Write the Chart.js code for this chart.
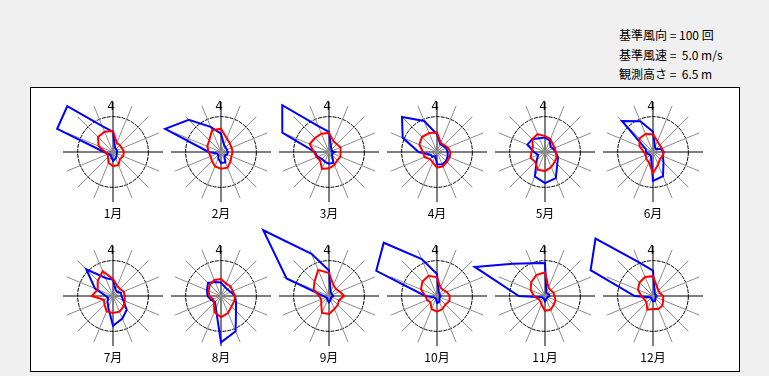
<!DOCTYPE html>
<html>
<head>
<meta charset="utf-8">
<script src="https://cdn.jsdelivr.net/npm/chart.js@4.4.1/dist/chart.umd.min.js"></script>
<style>
body { margin: 0; background: #f0f0f0; width: 769px; height: 376px; overflow: hidden; font-family: "Noto Sans CJK JP", sans-serif; }
#frame { position: absolute; left: 30px; top: 87px; width: 708px; height: 283px; border: 1px solid #000; background: #fff; }
#info { position: absolute; left: 619px; top: 25px; font-size: 12px; line-height: 19.5px; white-space: pre; color: #000; }
.rose { position: absolute; width: 220px; height: 220px; }
.mon { position: absolute; width: 40px; text-align: center; font-size: 12px; line-height: 16px; color: #000; }
</style>
</head>
<body>
<div id="frame"></div>
<div id="info">基準風向 = 100 回
基準風速 =  5.0 m/s
観測高さ =  6.5 m</div>
<div id="roses"></div>

<script>
// 16方位 (北から時計回り)
var dirs = ['N', 'NNE', 'NE', 'ENE', 'E', 'ESE', 'SE', 'SSE', 'S', 'SSW', 'SW', 'WSW', 'W', 'WNW', 'NW', 'NNW'];
var months = ['1月', '2月', '3月', '4月', '5月', '6月', '7月', '8月', '9月', '10月', '11月', '12月'];

// 基準円の値
var refCount = 100;   // 回
var refSpeed = 5.0;   // m/s

// 風向別出現回数 (青)
var windCount = [
    [57, 14, 12, 12, 11, 12, 14, 20, 25, 14, 10, 15, 25, 171, 183, 79],   // 1月
    [52, 22, 18, 18, 19, 19, 14, 32, 31, 20, 11, 12, 35, 171, 129, 77],   // 2月
    [57, 15, 10, 8, 16, 10, 12, 33, 33, 30, 28, 35, 40, 143, 187, 79],    // 3月
    [50, 24, 24, 28, 30, 33, 36, 38, 35, 12, 19, 20, 52, 105, 140, 95],   // 4月
    [41, 35, 22, 25, 30, 40, 49, 80, 88, 75, 33, 21, 31, 54, 51, 42],     // 5月
    [57, 15, 12, 23, 30, 30, 42, 74, 82, 15, 12, 15, 20, 22, 124, 94],    // 6月
    [46, 19, 17, 24, 24, 31, 55, 69, 84, 35, 22, 15, 20, 55, 107, 55],    // 7月
    [38, 28, 26, 30, 40, 46, 60, 108, 131, 38, 24, 30, 38, 43, 52, 43],   // 8月
    [72, 12, 10, 10, 12, 8, 8, 12, 18, 12, 8, 10, 15, 130, 263, 129],     // 9月
    [62, 12, 10, 8, 10, 8, 10, 18, 20, 8, 8, 10, 33, 186, 213, 113],      // 10月
    [93, 10, 10, 12, 12, 8, 8, 10, 15, 8, 8, 10, 74, 215, 129, 100],      // 11月
    [72, 12, 8, 8, 10, 8, 10, 15, 15, 10, 8, 10, 52, 191, 230, 103]       // 12月
];

// 風向別平均風速 m/s (赤)
var windSpeed = [
    [2.97, 1.4, 1.35, 1.4, 1.55, 1.55, 1.4, 2.0, 2.0, 1.65, 1.0, 0.85, 1.1, 2.2, 3.0, 3.1],
    [3.3, 2.1, 1.75, 1.6, 1.65, 1.6, 1.9, 2.4, 2.35, 2.2, 1.8, 1.6, 1.75, 2.1, 2.35, 3.3],
    [2.7, 1.65, 1.55, 1.75, 1.65, 1.75, 1.65, 2.0, 2.3, 2.6, 1.75, 1.9, 2.15, 2.95, 2.8, 2.8],
    [2.75, 1.4, 1.4, 1.65, 1.9, 1.95, 2.0, 2.2, 2.2, 1.6, 1.4, 1.9, 2.0, 2.7, 3.0, 2.9],
    [2.25, 2.0, 1.55, 1.5, 1.5, 1.8, 1.95, 2.3, 2.7, 2.7, 1.95, 2.2, 1.9, 1.85, 2.55, 2.75],
    [2.5, 1.65, 1.35, 1.35, 1.5, 1.5, 1.4, 1.9, 3.0, 1.55, 1.35, 1.1, 1.3, 2.05, 2.7, 2.75],
    [2.4, 1.55, 1.4, 1.65, 1.65, 1.8, 2.1, 2.4, 2.4, 2.35, 1.7, 1.4, 3.0, 2.35, 3.05, 3.8],
    [2.4, 1.9, 1.9, 1.8, 2.0, 2.0, 2.1, 2.6, 3.0, 2.45, 1.4, 1.2, 1.65, 1.9, 2.25, 2.45],
    [3.25, 1.65, 1.4, 1.65, 2.15, 1.55, 1.75, 2.0, 2.55, 2.6, 1.55, 1.2, 1.4, 2.35, 2.9, 4.0],
    [2.65, 1.3, 1.2, 1.5, 1.8, 1.9, 1.7, 2.0, 2.2, 2.0, 1.3, 1.5, 1.65, 2.45, 2.9, 3.1],
    [3.35, 1.3, 1.15, 1.3, 1.35, 1.6, 1.75, 2.1, 2.1, 1.3, 0.95, 1.05, 1.55, 2.2, 2.75, 3.2],
    [2.8, 1.45, 1.1, 1.05, 1.45, 1.55, 1.9, 2.0, 1.85, 2.1, 1.3, 1.3, 1.65, 2.3, 2.7, 2.9]
];

// 中心の点と北の印
var roseDeco = {
    id: 'roseDeco',
    beforeDatasetsDraw: function (chart) {
        var s = chart.scales.r;
        var ctx = chart.ctx;
        ctx.save();
        ctx.fillStyle = '#8c8c8c';
        ctx.beginPath();
        ctx.arc(s.xCenter, s.yCenter, 2.5, 0, Math.PI * 2);
        ctx.fill();
        ctx.fillStyle = '#000';
        ctx.font = '12px "DejaVu Sans"';
        ctx.textAlign = 'center';
        ctx.textBaseline = 'middle';
        ctx.fillText('4', s.xCenter - 2, s.yCenter - 45);
        ctx.restore();
    }
};

var holder = document.getElementById('roses');

months.forEach(function (m, i) {
    var col = i % 6, row = Math.floor(i / 6);
    var cx = Math.round(112.5 + 108.1 * col);
    var cy = row === 0 ? 152 : 296;

    var box = document.createElement('div');
    box.className = 'rose';
    box.style.left = (cx - 110) + 'px';
    box.style.top = (cy - 110) + 'px';
    var canvas = document.createElement('canvas');
    canvas.width = 220;
    canvas.height = 220;
    box.appendChild(canvas);
    holder.appendChild(box);

    var lab = document.createElement('div');
    lab.className = 'mon';
    lab.textContent = m;
    lab.style.left = (cx - 20) + 'px';
    lab.style.top = (cy + 53) + 'px';
    holder.appendChild(lab);

    new Chart(canvas, {
        type: 'radar',
        data: {
            labels: dirs,
            datasets: [{
                label: '平均風速',
                data: windSpeed[i].map(function (v) { return v * refCount / refSpeed; }),
                borderColor: '#ff0000',
                borderWidth: 2,
                pointRadius: 0,
                fill: false,
                clip: false
            }, {
                label: '出現回数',
                data: windCount[i],
                borderColor: '#0000ff',
                borderWidth: 2,
                pointRadius: 0,
                fill: false,
                clip: false
            }]
        },
        options: {
            responsive: false,
            animation: false,
            layout: { padding: 60 },
            plugins: {
                legend: { display: false },
                tooltip: { enabled: false }
            },
            scales: {
                r: {
                    min: 0,
                    max: refCount * Math.SQRT2,
                    ticks: { display: false },
                    pointLabels: { display: false },
                    afterBuildTicks: function (s) {
                        s.ticks = [{ value: 0 }, { value: refCount }];
                    },
                    grid: { circular: true, color: '#000', lineWidth: 1 },
                    border: { dash: [4, 1] },
                    angleLines: {
                        lineWidth: 1,
                        color: function (c) { return c.index % 4 === 0 ? '#000' : '#8c8c8c'; }
                    }
                }
            }
        },
        plugins: [roseDeco]
    });
});
</script>
</body>
</html>
